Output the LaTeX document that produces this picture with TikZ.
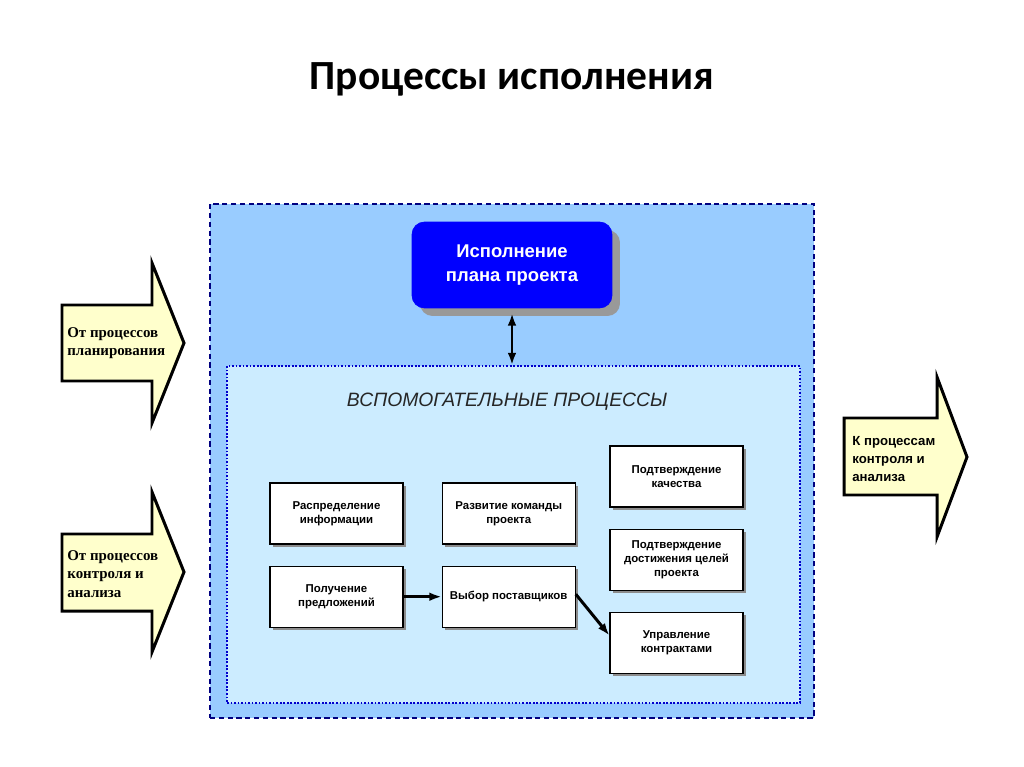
\documentclass[tikz,border=0pt]{standalone}
\usepackage{fontspec}
\setmainfont{Liberation Sans}
\newfontfamily\titlefont{Carlito}
\newfontfamily\arrowserif{Liberation Serif}
\usetikzlibrary{positioning,arrows.meta,shadows}
\definecolor{outerblue}{RGB}{153,204,255}
\definecolor{innerblue}{RGB}{204,236,255}
\definecolor{execblue}{RGB}{0,0,255}
\definecolor{paleyellow}{RGB}{255,255,204}
\definecolor{framenavy}{RGB}{0,0,128}
\definecolor{framedot}{RGB}{0,0,204}
\begin{document}
\begin{tikzpicture}[x=0.02cm, y=-0.02cm, node distance=0.42cm and 0.76cm,
  proc/.style={draw, fill=white, line width=0.7pt, minimum width=2.66cm, minimum height=1.22cm,
    align=center, font=\fontsize{6.5}{8}\selectfont\bfseries,
    drop shadow={shadow xshift=0.06cm, shadow yshift=-0.06cm, fill=black!45, opacity=1}},
  link/.style={-{Latex[length=7pt,width=5pt]}, line width=1.7pt},
  yarrow/.style={draw, fill=paleyellow, line width=1.7pt, line join=miter},
  arrowtext/.style={anchor=west, align=left, inner sep=0pt}]
\useasboundingbox (0,0) rectangle (1024,767);
% Title
\node[font=\titlefont\fontsize{23.6}{28}\selectfont\bfseries] (title) at (512,79) {Процессы исполнения};
% Frames
\node[draw=framenavy, fill=outerblue, line width=0.8pt, dash pattern=on 3pt off 2pt,
  minimum width=12.08cm, minimum height=10.28cm] (outer) at (512,461) {};
\node[draw=framedot, fill=innerblue, line width=1.1pt, dash pattern=on 1pt off 1pt,
  minimum width=11.46cm, minimum height=6.74cm] (aux) at (513.5,534.5) {};
\node[font=\fontsize{11}{13}\selectfont\itshape, text=black!85] (auxlabel) at (507,402) {ВСПОМОГАТЕЛЬНЫЕ ПРОЦЕССЫ};
% Main process
\node[draw=execblue, fill=execblue, rounded corners=0.25cm, minimum width=4cm, minimum height=1.72cm,
  align=center, text=white, font=\fontsize{10.5}{14}\selectfont\bfseries,
  drop shadow={shadow xshift=0.16cm, shadow yshift=-0.16cm, fill=black!40, opacity=1}]
  (exec) at (512,265) {Исполнение\\плана проекта};
% Supporting processes
\node[proc] (raspr) at (336.5,513.5) {Распределение\\информации};
\node[proc] (razv) [right=of raspr] {Развитие команды\\проекта};
\node[proc] (poluch) [below=of raspr] {Получение\\предложений};
\node[proc] (vybor) [below=of razv] {Выбор поставщиков};
\node[proc] (kach) at (676.5,476.5) {Подтверждение\\качества};
\node[proc] (celi) [below=of kach] {Подтверждение\\достижения целей\\проекта};
\node[proc] (upr) [below=of celi] {Управление\\контрактами};
% Edges
\draw[{Latex[length=7pt,width=5pt]}-{Latex[length=7pt,width=5pt]}, line width=1.4pt, shorten <=0.1cm] (exec.south) -- (exec.south |- aux.north);
\draw[link] (poluch) -- (vybor);
\draw[link] ([yshift=0.05cm]vybor.east) -- ([yshift=0.15cm]upr.west);
% Inputs and outputs
\draw[yarrow] (62,305) -- (152,305) -- (152,263) -- (184,343) -- (152,423) -- (152,381) -- (62,381) -- cycle;
\node[arrowtext, font=\arrowserif\fontsize{8.5}{10.5}\selectfont\bfseries] (fromplan) at (67,343) {От процессов\\планирования};
\draw[yarrow] (62,534) -- (152,534) -- (152,492) -- (184,572) -- (152,652) -- (152,611) -- (62,611) -- cycle;
\node[arrowtext, font=\arrowserif\fontsize{8.5}{10.5}\selectfont\bfseries] (fromctrl) at (67,574) {От процессов\\контроля и\\анализа};
\draw[yarrow] (844,418) -- (937,418) -- (937,377) -- (967,457) -- (937,537) -- (937,495) -- (844,495) -- cycle;
\node[arrowtext, font=\fontsize{7.5}{10}\selectfont\bfseries] (toctrl) at (852,459) {К процессам\\контроля и\\анализа};
\end{tikzpicture}
\end{document}
